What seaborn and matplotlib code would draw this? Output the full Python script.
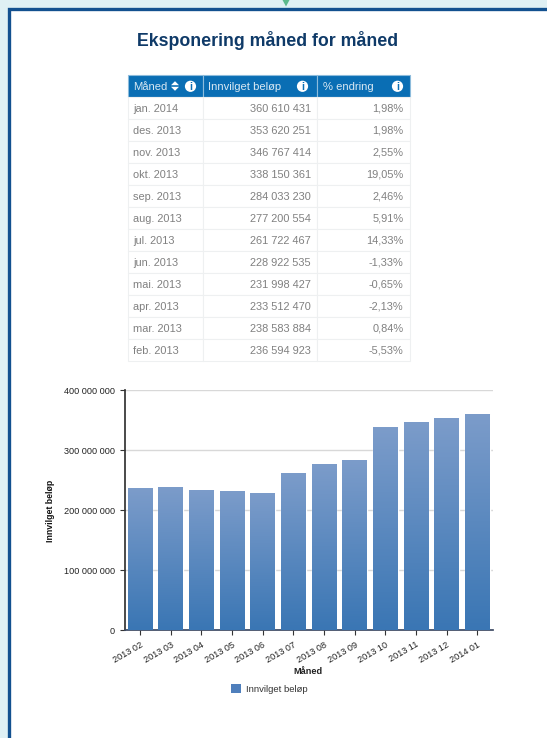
import numpy as np
import pandas as pd
import matplotlib
matplotlib.use('Agg')
import matplotlib.pyplot as plt
import seaborn as sns
from matplotlib.colors import LinearSegmentedColormap
from matplotlib.patches import Circle, Patch, Polygon, Rectangle
from matplotlib.ticker import FuncFormatter

# Data, newest month first as in the table
table_months = ['jan. 2014', 'des. 2013', 'nov. 2013', 'okt. 2013', 'sep. 2013', 'aug. 2013',
                'jul. 2013', 'jun. 2013', 'mai. 2013', 'apr. 2013', 'mar. 2013', 'feb. 2013']
amounts = [360610431, 353620251, 346767414, 338150361, 284033230, 277200554,
           261722467, 228922535, 231998427, 233512470, 238583884, 236594923]
changes = ['1,98%', '1,98%', '2,55%', '19,05%', '2,46%', '5,91%',
           '14,33%', '-1,33%', '-0,65%', '-2,13%', '0,84%', '-5,53%']
bar_months = ['2013 02', '2013 03', '2013 04', '2013 05', '2013 06', '2013 07',
              '2013 08', '2013 09', '2013 10', '2013 11', '2013 12', '2014 01']
headers = ['Måned', 'Innvilget beløp', '% endring']
y_ticks = [0, 100000000, 200000000, 300000000, 400000000]

W, H = 547, 738


def spaced(v):
    return f'{int(v):,}'.replace(',', ' ')


sns.set_theme(style='white')
plt.rcParams['font.family'] = ['Liberation Sans', 'DejaVu Sans']

fig = plt.figure(figsize=(W / 100, H / 100), dpi=100, facecolor='#dff0f4')

# Page frame and the little green marker at the top, in pixel coordinates
page = fig.add_axes([0, 0, 1, 1], zorder=0)
page.set_xlim(0, W)
page.set_ylim(H, 0)
page.axis('off')
page.add_patch(Rectangle((8.5, 8.5), W, H, facecolor='white', edgecolor='#12508f', linewidth=2.4))
page.add_patch(Polygon([[282.5, 0], [289.5, 0], [286, 6.5]], facecolor='#5cb98c', edgecolor='none'))
page.text(268, 40, 'Eksponering måned for måned', fontsize=12.8, fontweight='bold',
          color='#0f3a68', ha='center', va='center')

# Table
t_left, t_right, t_top, t_bottom = 127.5, 409.5, 74.5, 360.7
col_px = [75, 114.2, 92.8]
cells = [[m, spaced(a), c] for m, a, c in zip(table_months, amounts, changes)]
tbl = page.table(cellText=cells, colLabels=headers, colWidths=[c / W for c in col_px],
                 cellLoc='right',
                 bbox=[t_left / W, 1 - t_bottom / H, (t_right - t_left) / W, (t_bottom - t_top) / H])
tbl.set_zorder(3)
tbl.auto_set_font_size(False)
pads = [0.073, 0.05, 0.067]
for (r, c), cell in tbl.get_celld().items():
    cell.PAD = pads[c]
    cell.set_linewidth(0.8)
    cell.set_text_props(fontsize=7.9, verticalalignment='center_baseline')
    if r == 0:
        cell.set_facecolor('#0a6eb4')
        cell.set_edgecolor('#8dbcdc')
        cell.set_text_props(color='#d8e8f3', fontsize=8.1)
        cell.get_text().set_horizontalalignment('left')
    else:
        cell.set_facecolor('white')
        cell.set_edgecolor('#eef0f1')
        cell.set_text_props(color='#808080')
        if c == 0:
            cell.get_text().set_horizontalalignment('left')

# Header info icons and the sort arrows
for cx in [190.5, 302.5, 397.5]:
    page.add_patch(Circle((cx, 86.3), 5.6, facecolor='white', edgecolor='none', zorder=5))
    page.text(cx, 86.5, 'i', fontsize=7.5, fontweight='bold', color='#0a6eb4',
              ha='center', va='center', zorder=6)
page.add_patch(Polygon([[171, 85.2], [179, 85.2], [175, 81.2]], facecolor='white', edgecolor='none', zorder=5))
page.add_patch(Polygon([[171, 86.8], [179, 86.8], [175, 90.8]], facecolor='white', edgecolor='none', zorder=5))

# Bar chart
ax_left, ax_right, ax_top, ax_bottom = 124.7, 492.6, 390, 630
ax = fig.add_axes([ax_left / W, 1 - ax_bottom / H, (ax_right - ax_left) / W, (ax_bottom - ax_top) / H],
                  zorder=1)
ax.patch.set_alpha(0)

df = pd.DataFrame({'month': bar_months, 'amount': amounts[::-1]})
sns.barplot(data=df, x='month', y='amount', color='#4f7fbc', width=0.8, saturation=1, ax=ax, zorder=2)

# Vertical gradient on each bar
gradient = LinearSegmentedColormap.from_list('bar', ['#7c9cca', '#3a76b4'])
for bar in ax.patches:
    x0, h = bar.get_x(), bar.get_height()
    im = ax.imshow(np.linspace(0, 1, 128).reshape(-1, 1), cmap=gradient, aspect='auto',
                   extent=[x0, x0 + bar.get_width(), 0, h], zorder=3)
    im.set_clip_path(bar)
ax.set_xlim(-0.5, len(bar_months) - 0.5)
ax.set_ylim(0, 400000000)

ax.set_yticks(y_ticks)
ax.yaxis.set_major_formatter(FuncFormatter(lambda v, pos: spaced(v)))
ax.grid(axis='y', color='#d8d8d8', linewidth=1)
ax.set_axisbelow(True)
for side in ['top', 'right']:
    ax.spines[side].set_visible(False)
ax.spines['left'].set_color('#333333')
ax.spines['bottom'].set_color('#3d4a63')
ax.tick_params(axis='both', length=3.6, width=0.8, color='#333333', labelsize=6.6,
               labelcolor='#222222', left=True, bottom=True)
ax.tick_params(axis='y', pad=3.4)
ax.tick_params(axis='x', pad=3.6)
plt.setp(ax.get_xticklabels(), rotation=30, ha='right', rotation_mode='anchor')
ax.set_xlabel('Måned', fontsize=6.6, fontweight='bold', color='#222222', labelpad=0)
ax.set_ylabel('Innvilget beløp', fontsize=6.3, fontweight='bold', color='#111111', labelpad=4)
ax.xaxis.set_label_coords((308 - ax_left) / (ax_right - ax_left), -(667 - ax_bottom) / (ax_bottom - ax_top))
ax.yaxis.set_label_coords(-(124.7 - 55) / (ax_right - ax_left), (ax_bottom - 511) / (ax_bottom - ax_top))

ax.legend(handles=[Patch(facecolor='#4f7fbc', edgecolor='none', label='Innvilget beløp')],
          loc='center', bbox_to_anchor=((269 - ax_left) / (ax_right - ax_left), -(689 - ax_bottom) / (ax_bottom - ax_top)),
          frameon=False, fontsize=6.8, handlelength=1.1, handleheight=1.1, handletextpad=0.45,
          labelcolor='#333333', borderpad=0, borderaxespad=0)

fig.savefig('out.png', dpi=100, facecolor=fig.get_facecolor())
